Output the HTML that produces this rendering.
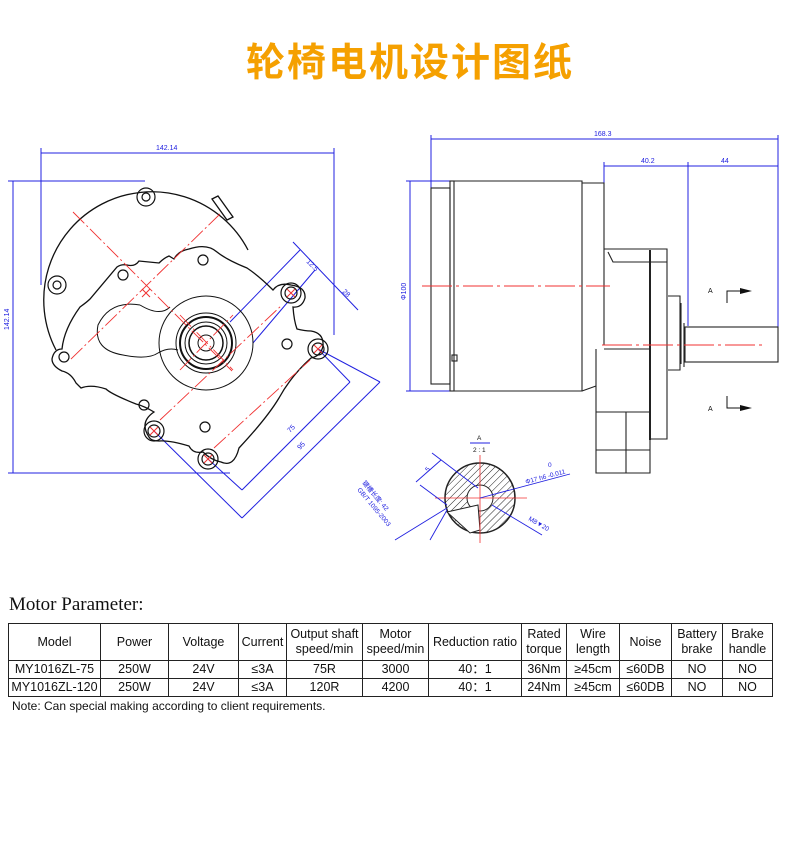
<!DOCTYPE html>
<html><head><meta charset="utf-8"><style>
body{margin:0;width:790px;height:865px;background:#fff;position:relative;overflow:hidden;font-family:"Liberation Sans",sans-serif}
#title{position:absolute;left:15px;width:790px;top:32px;text-align:center;font:bold 39px "Liberation Sans","Noto Sans CJK SC",sans-serif;color:#f5a000;letter-spacing:2px}
svg{position:absolute;left:0;top:0}
#mp{position:absolute;left:9px;top:594px;font:19px "Liberation Serif",serif;color:#111}
table{position:absolute;left:8px;top:623px;border-collapse:collapse;font-size:12.5px;color:#111}
td{border:1px solid #222;text-align:center;padding:0;line-height:15px}
tr.h td{height:36px}
tr.r td{height:17px}
#note{position:absolute;left:12px;top:699px;font-size:12px;color:#111}
</style></head><body>
<div id="title">轮椅电机设计图纸</div>
<svg width="790" height="600" viewBox="0 0 790 600" fill="none" stroke-width="1">
<defs><pattern id="hat" width="5" height="5" patternUnits="userSpaceOnUse" patternTransform="rotate(45)"><line x1="0" y1="0" x2="0" y2="5" stroke="#222" stroke-width="1"/></pattern></defs>
<g stroke="#2020e0">
<line x1="41" y1="153" x2="334" y2="153"/><line x1="41" y1="148" x2="41" y2="285"/><line x1="334" y1="148" x2="334" y2="335"/>
<line x1="13" y1="181" x2="13" y2="473"/><line x1="8" y1="181" x2="145" y2="181"/><line x1="8" y1="473" x2="230" y2="473"/>
<line x1="293" y1="242" x2="358" y2="310"/>
<line x1="300" y1="250" x2="230" y2="322"/><line x1="315" y1="270" x2="253" y2="343"/>
<line x1="350" y1="382" x2="242" y2="490"/><line x1="208" y1="459" x2="242" y2="490"/><line x1="318" y1="349" x2="350" y2="382"/>
<line x1="380" y1="382" x2="242" y2="518"/><line x1="154" y1="431" x2="242" y2="518"/><line x1="318" y1="349" x2="380" y2="382"/>
</g>
<g fill="#2020e0" font-family="Liberation Sans" font-size="7">
<text x="156" y="150">142.14</text>
<text x="9" y="330" transform="rotate(-90 9 330)">142.14</text>
<text x="306" y="262" transform="rotate(45 306 262)">12.5</text>
<text x="342" y="292" transform="rotate(45 342 292)">28</text>
<text x="290" y="433" transform="rotate(-45 290 433)">75</text>
<text x="300" y="450" transform="rotate(-45 300 450)">95</text>
</g>
<g stroke="#111" stroke-width="1.3">
<path d="M56,350 A104,104 0 1 1 248,250"/>
<path d="M212,199 l6,-3 l15,21 l-6,3z"/>
<path d="M117,267 q4,-3 10,-2 q8,2 12,-4 l20,2 q5,-5 10,-7 l5,3 q4,-8 15,-10 q18,-6 28,3 q10,8 30,16 q12,8 26,22 q6,-8 18,-5 q15,2 14,13 q-3,10 -12,9 q1,14 4,22 q8,2 14,2 q13,2 12,15 q-2,10 -12,12 q-20,18 -32,40 q-12,20 -40,50 q-5,20 -18,14 q-10,-2 -18,-10 q-10,2 -14,-6 q-20,-6 -30,-5 q-8,0 -10,-4 q-10,-15 5,-25 q-10,-6 -18,-8 q-25,-10 -30,-15 q-15,-5 -25,-1 l-5,-5 q-5,-10 -14,-12 q-10,-5 -10,-12 q2,-10 10,-10 q2,-20 18,-42 q7,-5 10,-8z"/>
<path d="M140,305 q-30,-5 -42,20 q-5,25 25,30 q25,5 35,-2 q10,-6 20,-3" stroke-width="1"/>
<path d="M140,305 q20,12 30,2" stroke-width="1"/>
</g>
<g stroke="#111" stroke-width="1">
<circle cx="206" cy="343" r="47"/><circle cx="206" cy="343" r="30"/><circle cx="206" cy="343" r="26" stroke-width="2"/><circle cx="206" cy="343" r="21"/><circle cx="206" cy="343" r="17" stroke-width="1.5"/><circle cx="206" cy="343" r="8"/>
<g stroke-width="1.2">
<circle cx="291" cy="293" r="10"/><circle cx="291" cy="293" r="6"/>
<circle cx="318" cy="349" r="10"/><circle cx="318" cy="349" r="6"/>
<circle cx="154" cy="431" r="10"/><circle cx="154" cy="431" r="6"/>
<circle cx="208" cy="459" r="10"/><circle cx="208" cy="459" r="6"/>
<circle cx="123" cy="275" r="5"/><circle cx="203" cy="260" r="5"/><circle cx="64" cy="357" r="5"/><circle cx="287" cy="344" r="5"/><circle cx="144" cy="405" r="5"/><circle cx="205" cy="427" r="5"/>
<circle cx="146" cy="197" r="9"/><circle cx="146" cy="197" r="4"/><circle cx="57" cy="285" r="9"/><circle cx="57" cy="285" r="4"/>
</g></g>
<g stroke="#f03030" stroke-width="0.9" stroke-dasharray="16,3,2,3">
<line x1="73" y1="212" x2="232" y2="371"/><line x1="220" y1="214" x2="70" y2="360"/>
<line x1="180" y1="370" x2="233" y2="315"/><line x1="180" y1="315" x2="233" y2="370"/>
<line x1="160" y1="420" x2="282" y2="305"/><line x1="214" y1="448" x2="310" y2="360"/>
</g>
<g stroke="#f03030" stroke-width="1">
<path d="M287,289l8,8M295,289l-8,8M314,345l8,8M322,345l-8,8M150,427l8,8M158,427l-8,8M204,455l8,8M212,455l-8,8M142,289l8,8M150,289l-8,8"/>
</g>
<g stroke="#2020e0">
<line x1="431" y1="139" x2="778" y2="139"/><line x1="431" y1="135" x2="431" y2="190"/><line x1="778" y1="135" x2="778" y2="328"/>
<line x1="604" y1="166" x2="778" y2="166"/><line x1="604" y1="162" x2="604" y2="183"/><line x1="688" y1="162" x2="688" y2="326"/>
<line x1="410" y1="181" x2="410" y2="391"/><line x1="406" y1="181" x2="450" y2="181"/><line x1="406" y1="391" x2="450" y2="391"/>
</g>
<g fill="#2020e0" font-family="Liberation Sans" font-size="7">
<text x="594" y="136">168.3</text><text x="641" y="163">40.2</text><text x="721" y="163">44</text>
<text x="406" y="300" transform="rotate(-90 406 300)">Φ100</text>
</g>
<g stroke="#222" stroke-width="1.1">
<rect x="431" y="188" width="19" height="196"/>
<rect x="450" y="181" width="4" height="210"/>
<path d="M454,181H582V391H454"/>
<path d="M582,183H604V270M582,391l14,-5"/>
<path d="M604,249H667V439H650M608,252l5,10H667"/>
<path d="M604,270V345M596,349V473H650V349H604"/>
<path d="M596,412H650M596,450H650M626,412V473"/>
<path d="M650,250V440" stroke-width="2"/>
<path d="M668,296H680V370H668"/>
<path d="M681,303V364M684,323V367"/>
<rect x="685" y="327" width="93" height="35"/>
<rect x="452" y="355" width="5" height="6"/>
</g>
<g stroke="#f03030" stroke-dasharray="30,4,3,4"><line x1="422" y1="286" x2="610" y2="286"/><line x1="602" y1="345" x2="766" y2="345"/></g>
<g stroke="#111" fill="none"><path d="M727,303V291H745M727,396V408H745"/></g>
<g fill="#111"><path d="M740,288l12,3l-12,3zM740,405l12,3l-12,3z"/><text x="708" y="293" font-size="7" font-family="Liberation Sans">A</text><text x="708" y="411" font-size="7" font-family="Liberation Sans">A</text></g>
<g>
<circle cx="480" cy="498" r="35" fill="url(#hat)" stroke="#222" stroke-width="1.5"/>
<circle cx="480" cy="498" r="13" fill="#fff" stroke="#222"/>
<path d="M447,512 L478,505 L480,530 L470,533 Z" fill="#fff" stroke="#222"/>
</g>
<g stroke="#f03030" stroke-width="0.8"><line x1="480" y1="455" x2="480" y2="543"/><line x1="435" y1="498" x2="527" y2="498"/></g>
<g stroke="#2020e0" stroke-width="0.9">
<line x1="480" y1="498" x2="570" y2="474"/><line x1="492" y1="505" x2="542" y2="535"/>
<line x1="441" y1="460" x2="416" y2="482"/><line x1="432" y1="453" x2="478" y2="488"/><line x1="420" y1="485" x2="447" y2="505"/>
<line x1="447" y1="508" x2="395" y2="540"/><line x1="447" y1="510" x2="430" y2="540"/>
<line x1="470" y1="443" x2="490" y2="443"/>
</g>
<g font-family="Liberation Sans" font-size="6.5" fill="#2020e0">
<text x="477" y="440" fill="#111">A</text><text x="473" y="452" fill="#111">2 : 1</text>
<text x="526" y="484" transform="rotate(-15 526 484)">Φ17 h6 -0.011</text><text x="548" y="467">0</text>
<text x="528" y="520" transform="rotate(30 528 520)">M8▼20</text>
<text x="428" y="472" transform="rotate(-50 428 472)">5</text>
<text x="362" y="483" transform="rotate(50 362 483)">键槽长度: 42</text>
<text x="357" y="490" transform="rotate(50 357 490)">GB/T 1095-2003</text>
</g>
</svg>
<div id="mp">Motor Parameter:</div>
<table>
<tr class="h"><td style="width:91px">Model</td><td style="width:67px">Power</td><td style="width:69px">Voltage</td><td style="width:47px">Current</td><td style="width:75px">Output shaft<br>speed/min</td><td style="width:65px">Motor<br>speed/min</td><td style="width:92px">Reduction ratio</td><td style="width:44px">Rated<br>torque</td><td style="width:52px">Wire<br>length</td><td style="width:51px">Noise</td><td style="width:50px">Battery<br>brake</td><td style="width:49px">Brake<br>handle</td></tr>
<tr class="r"><td>MY1016ZL-75</td><td>250W</td><td>24V</td><td>≤3A</td><td>75R</td><td>3000</td><td>40：1</td><td>36Nm</td><td>≥45cm</td><td>≤60DB</td><td>NO</td><td>NO</td></tr>
<tr class="r"><td>MY1016ZL-120</td><td>250W</td><td>24V</td><td>≤3A</td><td>120R</td><td>4200</td><td>40：1</td><td>24Nm</td><td>≥45cm</td><td>≤60DB</td><td>NO</td><td>NO</td></tr>
</table>
<div id="note">Note: Can special making according to client requirements.</div>
</body></html>
